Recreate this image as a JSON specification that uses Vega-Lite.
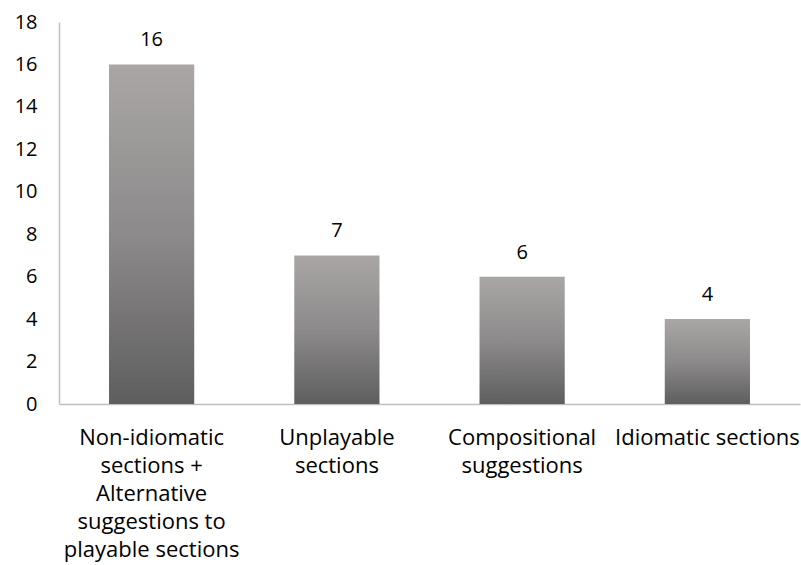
{
  "$schema": "https://vega.github.io/schema/vega-lite/v6.json",
  "autosize": "none",
  "width": 741,
  "height": 382,
  "padding": {"left": 59, "top": 22, "right": 1, "bottom": 161},
  "background": "white",
  "config": {
    "view": {"stroke": null},
    "font": "Open Sans",
    "axis": {"grid": false, "ticks": false, "domainColor": "#bfbfbf", "domainWidth": 1.5, "labelFont": "Open Sans", "labelFontSize": 20, "labelColor": "#000000"}
  },
  "data": {
    "values": [
      {"category": "Non-idiomatic\nsections +\nAlternative\nsuggestions to\nplayable sections", "count": 16},
      {"category": "Unplayable\nsections", "count": 7},
      {"category": "Compositional\nsuggestions", "count": 6},
      {"category": "Idiomatic sections", "count": 4}
    ]
  },
  "encoding": {
    "x": {
      "field": "category",
      "type": "nominal",
      "sort": null,
      "title": null,
      "scale": {"paddingInner": 0.54, "paddingOuter": 0.27},
      "axis": {"labelAngle": 0, "labelFontSize": 22, "labelExpr": "split(datum.label, '\\n')", "labelLineHeight": 28, "labelPadding": 23, "labelBaseline": "top", "labelLimit": 300}
    },
    "y": {
      "field": "count",
      "type": "quantitative",
      "title": null,
      "scale": {"domain": [0, 18], "nice": false},
      "axis": {"values": [0, 2, 4, 6, 8, 10, 12, 14, 16, 18], "labelPadding": 22}
    }
  },
  "layer": [
    {
      "mark": {
        "type": "bar",
        "color": {
          "gradient": "linear",
          "x1": 0, "y1": 0, "x2": 0, "y2": 1,
          "stops": [
            {"offset": 0, "color": "#aaa6a6"},
            {"offset": 0.5, "color": "#8c8a8a"},
            {"offset": 1, "color": "#5f5e5e"}
          ]
        }
      }
    },
    {
      "mark": {"type": "text", "baseline": "bottom", "dy": -14, "fontSize": 20, "color": "#000000"},
      "encoding": {"text": {"field": "count", "type": "quantitative"}}
    }
  ]
}
